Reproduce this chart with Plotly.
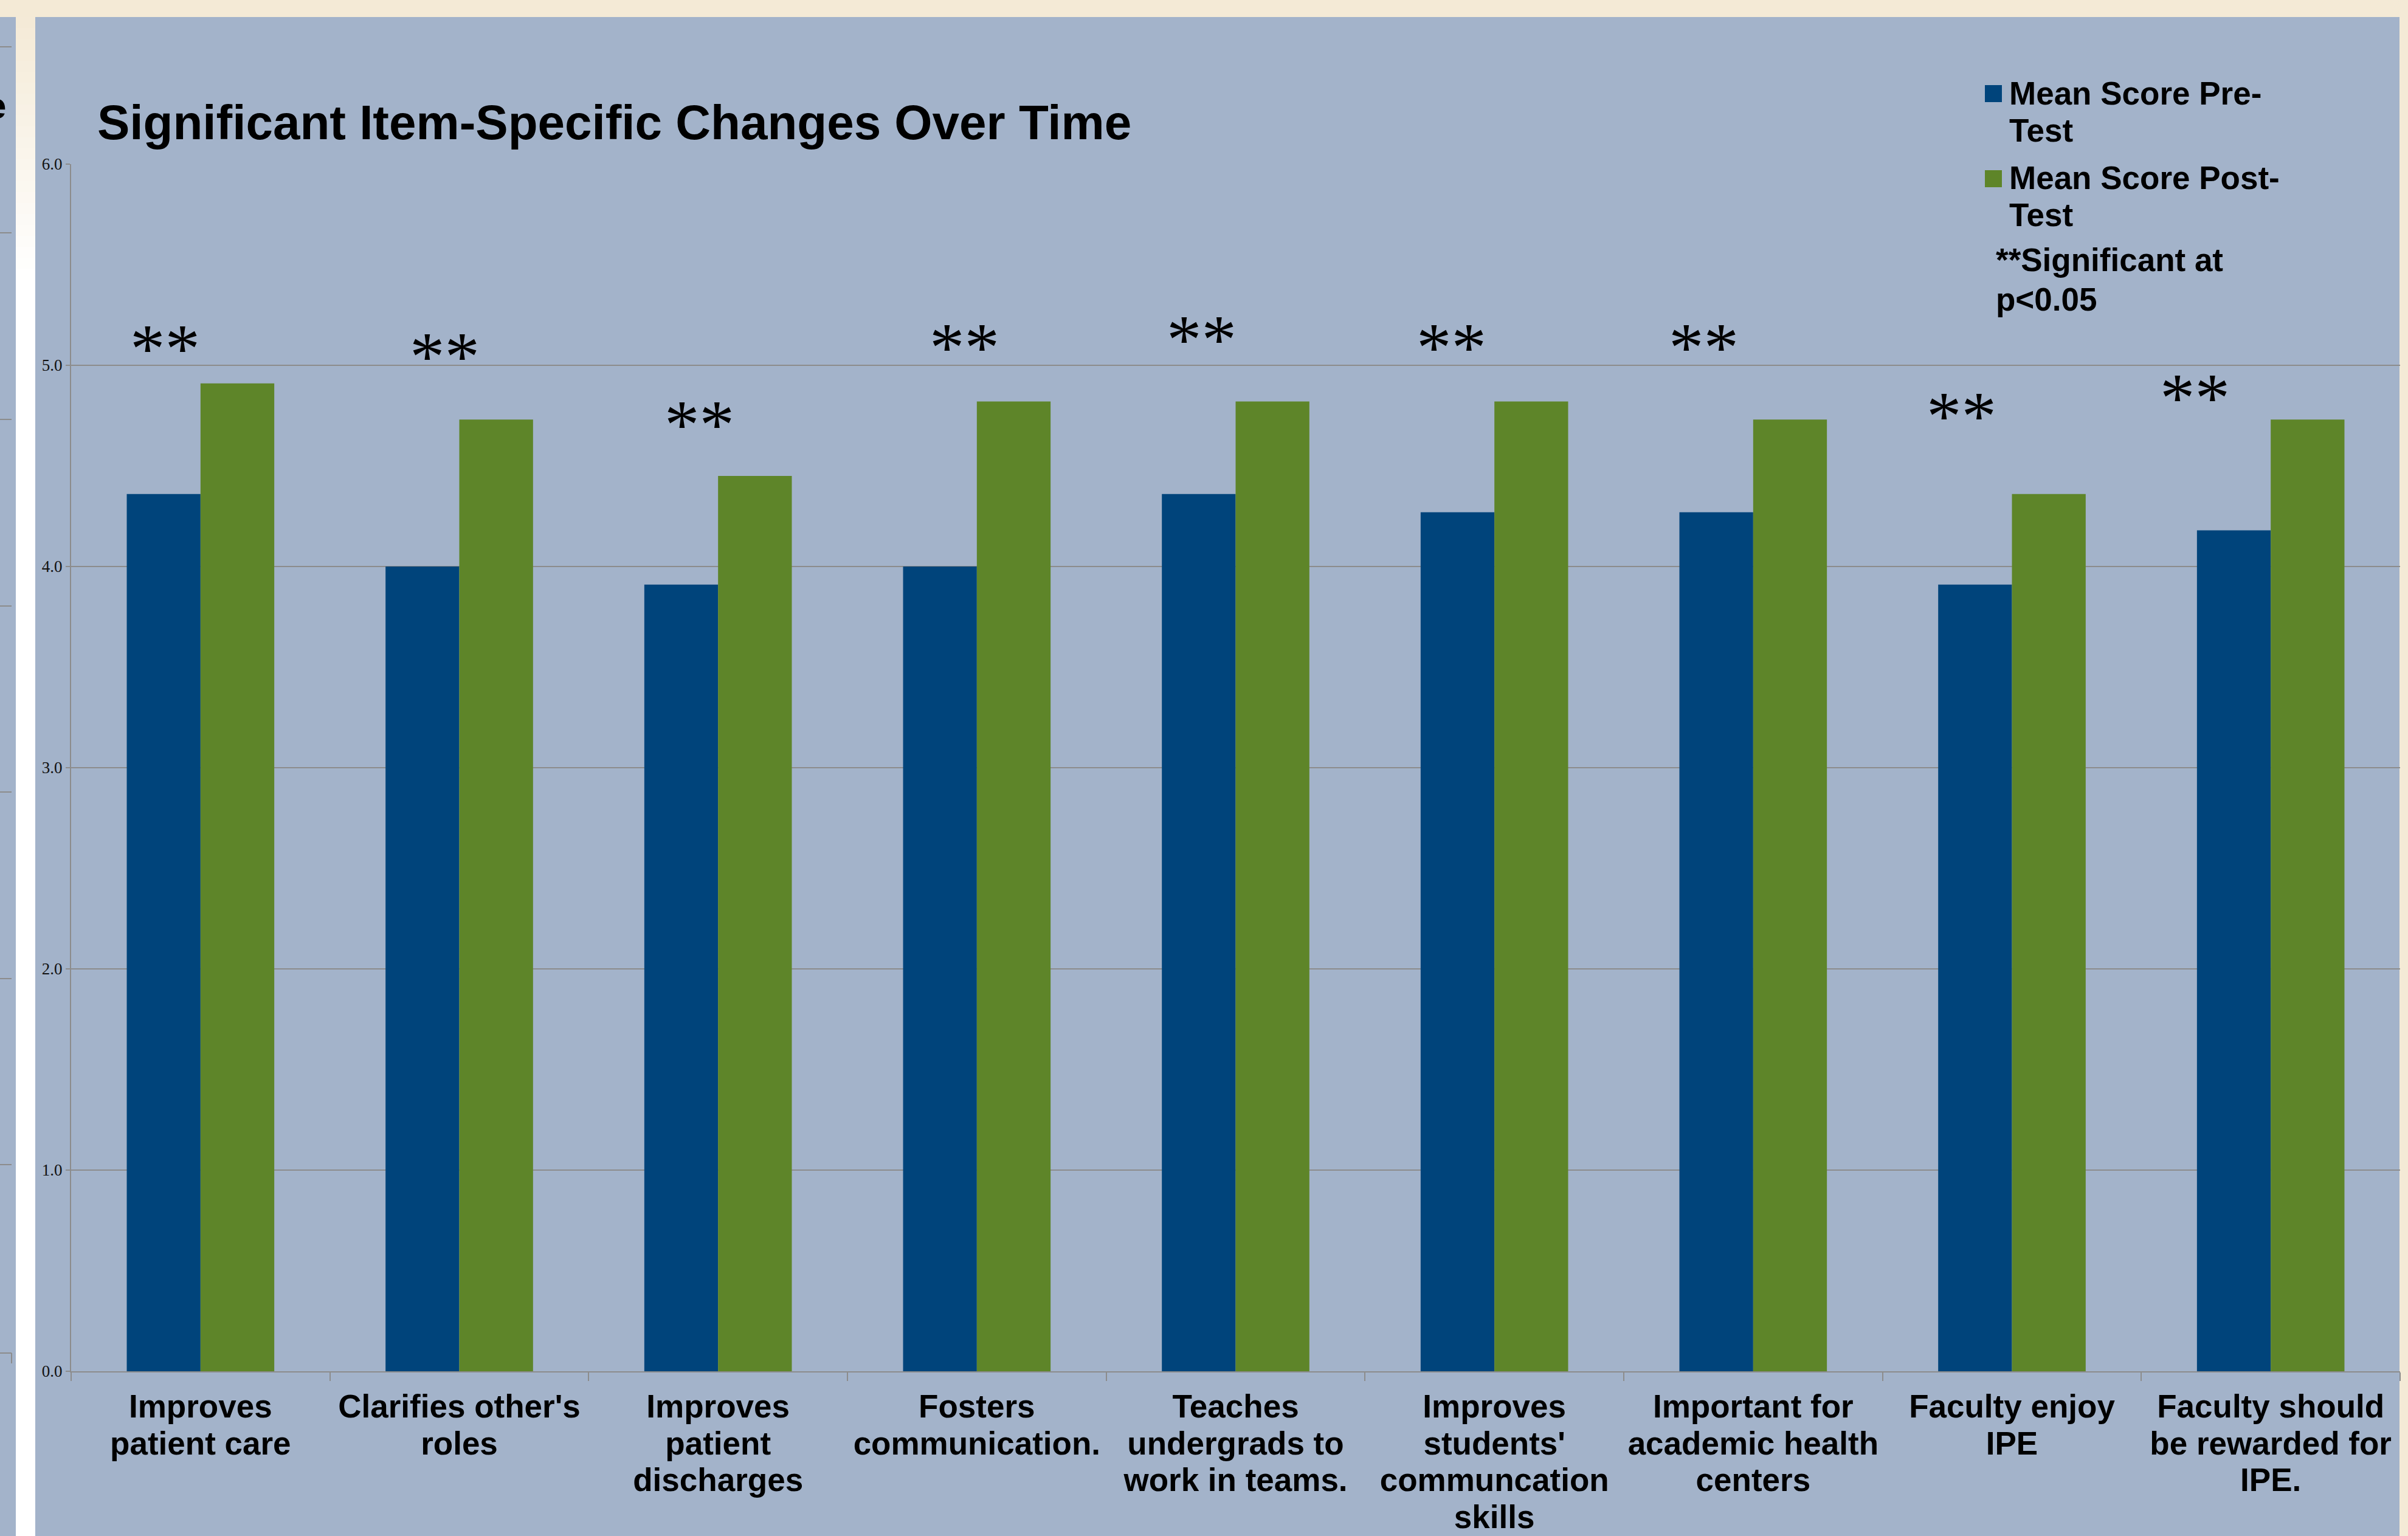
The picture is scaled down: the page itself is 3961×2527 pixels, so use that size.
import plotly.graph_objects as go

# ---------------- data ----------------
categories = [
    "Improves<br>patient care",
    "Clarifies other's<br>roles",
    "Improves<br>patient<br>discharges",
    "Fosters<br>communication.",
    "Teaches<br>undergrads to<br>work in teams.",
    "Improves<br>students'<br>communcation<br>skills",
    "Important for<br>academic health<br>centers",
    "Faculty enjoy<br>IPE",
    "Faculty should<br>be rewarded for<br>IPE.",
]
pre_test = [4.36, 4.00, 3.91, 4.00, 4.36, 4.27, 4.27, 3.91, 4.18]
post_test = [4.91, 4.73, 4.45, 4.82, 4.82, 4.82, 4.73, 4.36, 4.73]
significant = [True, True, True, True, True, True, True, True, True]
series_names = ["Mean Score Pre-<br>Test", "Mean Score Post-<br>Test"]
y_tick_values = [0, 1, 2, 3, 4, 5, 6]
title_text = "Significant Item-Specific Changes Over Time"
note_text = "**Significant at<br>p&lt;0.05"

# ---------------- styling / layout ----------------
W, H = 3961, 2527
PL, PR, PT, PB = 117, 3948, 270, 2256

BG = "#A3B3CA"
BEIGE = (244, 234, 214)
BLUE = "#00447B"
GREEN = "#5E8529"
GRID = "#8C8C8C"
SANS = "Liberation Sans, Arial, sans-serif"
SERIF = "Liberation Serif, Times New Roman, serif"


def fx(px):
    return (px - PL) / (PR - PL)


def fy(py):
    return (PB - py) / (PB - PT)


def spaced(text, size):
    """wrap every line in a span so glyph size and line pitch can differ"""
    return "<br>".join(
        f"<span style='font-size:{size}px'>{ln}</span>" for ln in text.split("<br>")
    )


fig = go.Figure()
fig.add_trace(go.Bar(x=categories, y=pre_test, name=series_names[0],
                     marker=dict(color=BLUE, line=dict(width=0)), showlegend=False))
fig.add_trace(go.Bar(x=categories, y=post_test, name=series_names[1],
                     marker=dict(color=GREEN, line=dict(width=0)), showlegend=False))

shapes = []
# main slide background
shapes.append(dict(type="rect", xref="paper", yref="paper", layer="below",
                   x0=fx(58), x1=fx(3947), y0=fy(H), y1=fy(28),
                   fillcolor=BG, line=dict(width=0)))
# remnant strip of the slide behind
shapes.append(dict(type="rect", xref="paper", yref="paper", layer="below",
                   x0=fx(0), x1=fx(26), y0=fy(H), y1=fy(28),
                   fillcolor=BG, line=dict(width=0)))
# beige -> white gradient strip
n_steps = 24
g_top, g_bot = 28, 460
for k in range(n_steps):
    t = (k + 0.5) / n_steps
    c = tuple(int(round(BEIGE[j] + (255 - BEIGE[j]) * t)) for j in range(3))
    y0 = g_top + (g_bot - g_top) * k / n_steps
    y1 = g_top + (g_bot - g_top) * (k + 1) / n_steps
    shapes.append(dict(type="rect", xref="paper", yref="paper", layer="below",
                       x0=fx(26), x1=fx(58), y0=fy(y1 + 1), y1=fy(y0),
                       fillcolor=f"rgb{c}", line=dict(width=0)))
shapes.append(dict(type="rect", xref="paper", yref="paper", layer="below",
                   x0=fx(26), x1=fx(58), y0=fy(H), y1=fy(g_bot),
                   fillcolor="white", line=dict(width=0)))
for yy in [77, 383, 690, 997, 1303, 1610, 1916, 2226]:
    shapes.append(dict(type="line", xref="paper", yref="paper", layer="below",
                       x0=fx(0), x1=fx(19), y0=fy(yy), y1=fy(yy),
                       line=dict(color=GRID, width=2)))
shapes.append(dict(type="line", xref="paper", yref="paper", layer="below",
                   x0=fx(19), x1=fx(19), y0=fy(2226), y1=fy(2243),
                   line=dict(color=GRID, width=2)))
# legend swatches
for (top, bot), col in zip([(140, 168), (280, 308)], [BLUE, GREEN]):
    shapes.append(dict(type="rect", xref="paper", yref="paper",
                       x0=fx(3265), x1=fx(3293), y0=fy(bot), y1=fy(top),
                       fillcolor=col, line=dict(width=0)))

annotations = []
# legend texts
for name, top in zip(series_names, [123, 262]):
    annotations.append(dict(text=spaced(name, 53), xref="paper", yref="paper",
                            x=fx(3304), y=fy(top), xanchor="left", yanchor="top",
                            showarrow=False, borderpad=0, align="left",
                            font=dict(family=SANS, size=47, color="black", weight="bold")))
annotations.append(dict(text=spaced(note_text, 53), xref="paper", yref="paper",
                        x=fx(3282), y=fy(397), xanchor="left", yanchor="top",
                        showarrow=False, borderpad=0, align="left",
                        font=dict(family=SANS, size=50, color="black", weight="bold")))
# partial letter of the slide behind
annotations.append(dict(text="e", xref="paper", yref="paper", x=fx(11), y=fy(209),
                        xanchor="right", yanchor="bottom", showarrow=False, borderpad=0,
                        font=dict(family=SANS, size=62, color="black", weight="bold")))

# significance markers (offset in category units, height in data units)
STAR_POS = [(-0.137, 5.127), (-0.056, 5.088), (-0.071, 4.751), (-0.047, 5.134),
            (-0.131, 5.175), (-0.165, 5.133), (-0.190, 5.133), (-0.194, 4.792),
            (-0.293, 4.885)]
for i, sig in enumerate(significant):
    if not sig:
        continue
    dx, yy = STAR_POS[i]
    annotations.append(dict(text="**", xref="x", yref="y", x=i + dx, y=yy,
                            xanchor="center", yanchor="middle", yshift=-15,
                            showarrow=False, borderpad=0,
                            font=dict(family=SERIF, size=115, color="black")))

fig.update_layout(
    width=W, height=H,
    margin=dict(l=PL, r=W - PR, t=PT, b=H - PB, autoexpand=False),
    paper_bgcolor=f"rgb{BEIGE}",
    plot_bgcolor="rgba(0,0,0,0)",
    barmode="group", bargap=0.43, bargroupgap=0,
    showlegend=False,
    title=dict(text=title_text, xref="container", yref="container",
               x=160 / W, xanchor="left", y=1 - 173 / H, yanchor="top",
               font=dict(family=SANS, size=80, color="black", weight="bold")),
    shapes=shapes,
    annotations=annotations,
)
fig.update_xaxes(
    type="category", tickmode="array", tickvals=categories,
    ticktext=[spaced(c, 53) for c in categories],
    tickson="boundaries", ticks="outside", ticklen=14, tickwidth=2, tickcolor=GRID,
    showline=True, linecolor=GRID, linewidth=2, showgrid=False, tickangle=0,
    tickfont=dict(family=SANS, size=46.6, color="black", weight="bold"),
    ticklabelstandoff=18,
)
fig.update_yaxes(
    range=[0, 6], tickmode="array", tickvals=y_tick_values, tickformat=".1f",
    ticks="outside", ticklen=7, tickwidth=2, tickcolor=GRID,
    showline=True, linecolor=GRID, linewidth=2,
    showgrid=True, gridcolor=GRID, gridwidth=2, zeroline=False,
    tickfont=dict(family=SERIF, size=27, color="#111111"),
)

fig.write_html(
    "out.html",
    config={"displayModeBar": False},
    post_script="document.body.style.margin='0';document.body.style.overflow='hidden';",
)
